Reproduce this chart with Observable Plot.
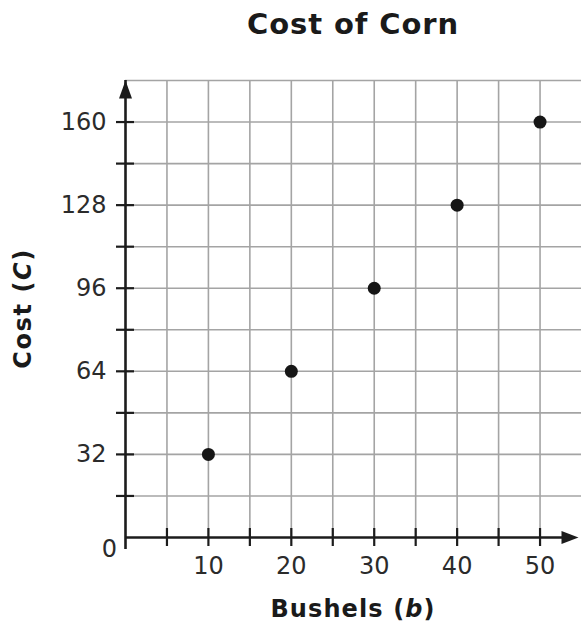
<!DOCTYPE html>
<html>
<head>
<meta charset="utf-8">
<script src="https://cdn.jsdelivr.net/npm/d3@7"></script>
<script src="https://cdn.jsdelivr.net/npm/@observablehq/plot@0.6"></script>
<style>
  html, body { margin: 0; padding: 0; background: #fff; }
  #chart svg { display: block; }
</style>
</head>
<body>
<div id="chart"></div>
<script>
// ---- data ----
const bushels = [10, 20, 30, 40, 50];
const cost = [32, 64, 96, 128, 160];

const xDomain = [0, 55];
const yDomain = [0, 176];
const xGridTicks = [5, 10, 15, 20, 25, 30, 35, 40, 45, 50];
const xLabelTicks = [10, 20, 30, 40, 50];
const yGridTicks = [16, 32, 48, 64, 80, 96, 112, 128, 144, 160, 176];
const yTickMarks = [16, 32, 48, 64, 80, 96, 112, 128, 144, 160];
const yLabelTicks = [32, 64, 96, 128, 160];
const originLabel = ["0"];

const titleText = "Cost of Corn";
const xLabelParts = [["Bushels (", "normal"], ["b", "italic"], [")", "normal"]];
const yLabelParts = [["Cost (", "normal"], ["C", "italic"], [")", "normal"]];

const points = bushels.map((b, i) => ({ b, c: cost[i] }));

// arrowhead symbols (filled triangles)
const arrowUp = {
  draw(ctx) { ctx.moveTo(0, 0); ctx.lineTo(6.5, 18); ctx.lineTo(-6.5, 18); ctx.closePath(); }
};
const arrowRight = {
  draw(ctx) { ctx.moveTo(-3, 0); ctx.lineTo(-20, -6.5); ctx.lineTo(-20, 6.5); ctx.closePath(); }
};

const ink = "#1c1c1c";
const gridColor = "#a4a4a4";

const plot = Plot.plot({
  width: 581,
  height: 624,
  marginLeft: 125,
  marginRight: 0,
  marginTop: 80,
  marginBottom: 87,
  x: { domain: xDomain },
  y: { domain: yDomain },
  style: { fontFamily: "'DejaVu Sans', Verdana, sans-serif", fontSize: "24px", color: "#2b2b2b", background: "#fff" },
  marks: [
    Plot.gridX(xGridTicks, { stroke: gridColor, strokeOpacity: 1, strokeWidth: 1.6 }),
    Plot.gridY(yGridTicks, { stroke: gridColor, strokeOpacity: 1, strokeWidth: 1.6 }),
    // crossing tick marks on the axes
    Plot.ruleX(xGridTicks, { x: d => d, y1: () => yDomain[0], y2: () => yDomain[0], insetTop: -9, insetBottom: -9, stroke: ink, strokeWidth: 2.2 }),
    Plot.ruleY(yTickMarks, { y: d => d, x1: () => xDomain[0], x2: () => xDomain[0], insetLeft: -9, insetRight: -9, stroke: ink, strokeWidth: 2.2 }),
    // axis lines
    Plot.ruleY([yDomain[0]], { x1: () => xDomain[0], x2: () => xDomain[1], insetRight: 12, stroke: ink, strokeWidth: 2.6 }),
    Plot.ruleX([xDomain[0]], { y1: () => yDomain[0], y2: () => yDomain[1], insetTop: 12, stroke: ink, strokeWidth: 2.6 }),
    // arrowheads
    Plot.dot([{ x: xDomain[1], y: yDomain[0] }], { x: "x", y: "y", symbol: arrowRight, fill: ink, stroke: "none" }),
    Plot.dot([{ x: xDomain[0], y: yDomain[1] }], { x: "x", y: "y", symbol: arrowUp, fill: ink, stroke: "none" }),
    // tick labels
    Plot.axisX({ ticks: xLabelTicks, tickSize: 0, tickPadding: 19, label: null, tickFormat: d => String(d) }),
    Plot.axisY({ ticks: yLabelTicks, tickSize: 0, tickPadding: 19, label: null, tickFormat: d => String(d) }),
    Plot.text(originLabel, { x: () => xDomain[0], y: () => yDomain[0], text: d => d, dx: -16, dy: 12, fill: "#2b2b2b" }),
    // data points
    Plot.dot(points, { x: "b", y: "c", r: 6.5, fill: "#161616", stroke: "none" })
  ]
});

document.getElementById("chart").appendChild(plot);

// titles with mixed italic parts
const svg = d3.select(plot);
const xr = plot.scale("x").range;
const yr = plot.scale("y").range;
const cx = (xr[0] + xr[1]) / 2;
const cy = (yr[0] + yr[1]) / 2;
const fam = "'DejaVu Sans', Verdana, sans-serif";

svg.append("text")
  .attr("x", cx).attr("y", 34)
  .attr("text-anchor", "middle")
  .attr("font-family", fam).attr("font-weight", "bold").attr("font-size", 29)
  .attr("letter-spacing", 0.9)
  .attr("fill", "#1a1a1a")
  .text(titleText);

const xl = svg.append("text")
  .attr("x", cx).attr("y", 617)
  .attr("text-anchor", "middle")
  .attr("font-family", fam).attr("font-weight", "bold").attr("font-size", 24)
  .attr("letter-spacing", 1.1)
  .attr("fill", "#1a1a1a");
xLabelParts.forEach(([t, s]) => xl.append("tspan").attr("font-style", s).text(t));

const yl = svg.append("text")
  .attr("transform", `translate(31,${cy}) rotate(-90)`)
  .attr("text-anchor", "middle")
  .attr("font-family", fam).attr("font-weight", "bold").attr("font-size", 24)
  .attr("letter-spacing", 1.6)
  .attr("fill", "#1a1a1a");
yLabelParts.forEach(([t, s]) => yl.append("tspan").attr("font-style", s).text(t));
</script>
</body>
</html>
